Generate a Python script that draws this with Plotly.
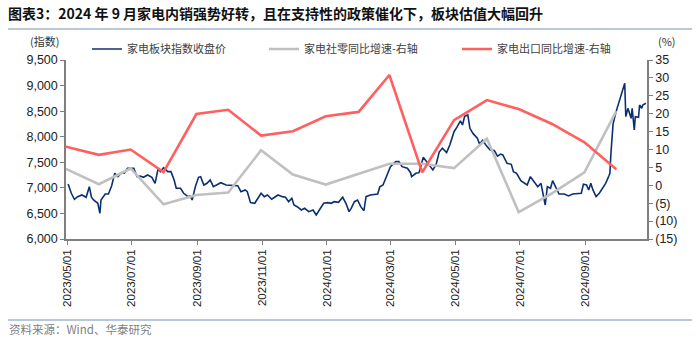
import plotly.graph_objects as go

# ---------------- data ----------------
idx_dates = [
    "2023-05-02","2023-05-03","2023-05-05","2023-05-08","2023-05-11","2023-05-15","2023-05-19","2023-05-22",
    "2023-05-24","2023-05-26","2023-05-30","2023-06-01","2023-06-02","2023-06-06","2023-06-09","2023-06-12",
    "2023-06-15","2023-06-18","2023-06-21","2023-06-24","2023-06-27","2023-06-30","2023-07-03","2023-07-06",
    "2023-07-09","2023-07-12","2023-07-16","2023-07-20","2023-07-23","2023-07-26","2023-07-28","2023-07-31",
    "2023-08-04","2023-08-07","2023-08-10","2023-08-12","2023-08-16","2023-08-19","2023-08-23","2023-08-25",
    "2023-08-27","2023-08-30","2023-09-02","2023-09-04","2023-09-07","2023-09-10","2023-09-13","2023-09-16",
    "2023-09-19","2023-09-23","2023-09-28","2023-10-06","2023-10-09","2023-10-12","2023-10-16","2023-10-18",
    "2023-10-21","2023-10-25","2023-10-28","2023-10-31","2023-11-03","2023-11-06","2023-11-10","2023-11-13",
    "2023-11-16","2023-11-20","2023-11-23","2023-11-26","2023-11-29","2023-12-01","2023-12-04","2023-12-08",
    "2023-12-11","2023-12-15","2023-12-19","2023-12-22","2023-12-25","2023-12-29","2024-01-02","2024-01-05",
    "2024-01-08","2024-01-12","2024-01-16","2024-01-19","2024-01-22","2024-01-24","2024-01-27","2024-01-30",
    "2024-02-02","2024-02-05","2024-02-07","2024-02-11","2024-02-18","2024-02-20","2024-02-23","2024-02-25",
    "2024-02-27","2024-03-01","2024-03-06","2024-03-09","2024-03-12","2024-03-17","2024-03-20","2024-03-21",
    "2024-03-25","2024-03-28","2024-04-01","2024-04-03","2024-04-06","2024-04-10","2024-04-13","2024-04-16",
    "2024-04-19","2024-04-23","2024-04-26","2024-04-30","2024-05-03","2024-05-06","2024-05-08","2024-05-10",
    "2024-05-13","2024-05-15","2024-05-18","2024-05-22","2024-05-24","2024-05-27","2024-05-30","2024-06-03",
    "2024-06-07","2024-06-10","2024-06-13","2024-06-15","2024-06-19","2024-06-23","2024-06-25","2024-06-28",
    "2024-07-02","2024-07-05","2024-07-08","2024-07-11","2024-07-15","2024-07-18","2024-07-21","2024-07-24",
    "2024-07-25","2024-07-27","2024-07-30","2024-08-01","2024-08-04","2024-08-07","2024-08-12","2024-08-16",
    "2024-08-20","2024-08-25","2024-08-28","2024-08-30","2024-09-02","2024-09-04","2024-09-06","2024-09-08",
    "2024-09-11","2024-09-14","2024-09-17","2024-09-20","2024-09-23","2024-09-24","2024-09-25","2024-09-26",
    "2024-09-27","2024-09-30","2024-10-08","2024-10-09","2024-10-11","2024-10-14","2024-10-15","2024-10-17",
    "2024-10-18","2024-10-21","2024-10-22","2024-10-24","2024-10-25","2024-10-28",
]
idx_close = [
    7076,7023,6894,6777,6828,6861,6816,7023,
    6816,6763,6698,6503,6763,6880,6880,7037,
    7285,7219,7285,7285,7383,7383,7383,7219,
    7232,7206,7252,7206,7089,7383,7317,7395,
    7317,7317,7154,6992,6992,6894,6828,6841,
    6763,7023,7206,7219,7056,7090,7154,7023,
    7056,7101,7056,7043,7043,6925,6959,6925,
    6711,6698,6796,6894,6828,6861,6777,6828,
    6861,6828,6816,6730,6796,6665,6632,6568,
    6600,6535,6568,6470,6568,6698,6711,6698,
    6730,6718,6816,6698,6535,6600,6730,6763,
    6632,6554,6828,6861,6880,7023,7056,7154,
    7252,7414,7512,7512,7414,7383,7297,7219,
    7285,7297,7598,7545,7480,7350,7447,7700,
    7774,7688,7838,8098,8196,8310,8229,8400,
    8425,8164,8060,7969,7858,7930,7840,7741,
    7730,7620,7660,7643,7480,7460,7317,7285,
    7140,7089,7056,7219,7101,7023,7089,6763,
    6665,7023,6992,7141,7023,6880,6880,6841,
    6880,6894,6894,7070,7056,6959,7089,6959,
    6828,6894,6992,7089,7232,7285,7680,8050,
    8250,8500,9044,8392,8555,8360,8555,8131,
    8392,8380,8620,8555,8620,8653,
]

month_dates = [
    "2023-04-30","2023-05-31","2023-06-30","2023-07-31","2023-08-31","2023-09-30",
    "2023-10-31","2023-11-30","2023-12-31","2024-01-31","2024-02-29","2024-03-31",
    "2024-04-30","2024-05-31","2024-06-30","2024-07-31","2024-08-31","2024-09-30",
]
retail_yoy = [4.6, 0.3, 4.7, -5.3, -2.7, -2.0, 9.8, 3.0, 0.2, None, 6.0, 6.0,
              4.8, 13.0, -7.5, -2.3, 3.6, 20.7]
export_yoy = [10.8, 8.5, 10.0, 3.7, 19.9, 21.1, 13.9, 15.1, 19.3, 20.5, 30.8, 3.6,
              18.2, 23.8, 21.3, 17.2, 12.0, 4.5]

x_tickvals = ["2023-05-01","2023-07-01","2023-09-01","2023-11-01","2024-01-01",
              "2024-03-01","2024-05-01","2024-07-01","2024-09-01"]
x_ticktext = [d.replace("-", "/") for d in x_tickvals]
left_ticks = [6000, 6500, 7000, 7500, 8000, 8500, 9000, 9500]
right_ticks = [-15, -10, -5, 0, 5, 10, 15, 20, 25, 30, 35]
right_ticktext = [f"({abs(v)})" if v < 0 else str(v) for v in right_ticks]

names = ["家电板块指数收盘价", "家电社零同比增速-右轴", "家电出口同比增速-右轴"]
title_text = "图表3：2024 年 9 月家电内销强势好转，且在支持性的政策催化下，板块估值大幅回升"
source_text = "资料来源：Wind、华泰研究"

# ---------------- figure ----------------
W, H = 700, 342
L, R, T, B = 66, 53, 60, 103
pw, ph = W - L - R, H - T - B

def px(x):
    return (x - L) / pw

def py(y):
    return (H - B - y) / ph

CJK = "Noto Sans CJK SC"
NUM = "Liberation Sans"
AX = "#7f7f7f"

fig = go.Figure()
fig.add_trace(go.Scatter(x=idx_dates, y=idx_close, name=names[0], mode="lines",
                         line=dict(color="#0c2f73", width=1.6), legendwidth=132))
fig.add_trace(go.Scatter(x=month_dates, y=retail_yoy, name=names[1], mode="lines",
                         line=dict(color="#c0c0c0", width=2.6), yaxis="y2",
                         connectgaps=True, legendwidth=148))
fig.add_trace(go.Scatter(x=month_dates, y=export_yoy, name=names[2], mode="lines",
                         line=dict(color="#ff5f5f", width=2.6), yaxis="y2"))

fig.update_layout(
    width=W, height=H,
    margin=dict(l=L, r=R, t=T, b=B, pad=0, autoexpand=False),
    paper_bgcolor="white", plot_bgcolor="white",
    showlegend=True,
    legend=dict(orientation="h", xref="container", yref="container",
                x=87 / W, y=1 - 49 / H, xanchor="left", yanchor="middle",
                font=dict(family=CJK, size=11, color="#404040"),
                bgcolor="rgba(0,0,0,0)", itemclick=False, tracegroupgap=0),
    xaxis=dict(type="date", range=["2023-04-30", "2024-10-29"],
               tickvals=x_tickvals, ticktext=x_ticktext, tickangle=-90,
               tickfont=dict(family=NUM, size=11.5, color="#222"),
               showgrid=False, zeroline=False, showline=True, linecolor=AX, linewidth=1.5,
               ticks="outside", ticklen=4, tickcolor=AX, tickwidth=1),
    yaxis=dict(range=[6000, 9500], tickvals=left_ticks,
               ticktext=[f"{v:,}" for v in left_ticks],
               tickfont=dict(family=NUM, size=12.5, color="#222"),
               showgrid=False, zeroline=False, showline=True, linecolor=AX, linewidth=1.5,
               ticks="outside", ticklen=4, tickcolor=AX, tickwidth=1),
    yaxis2=dict(range=[-15, 35], overlaying="y", side="right",
                tickvals=right_ticks, ticktext=right_ticktext,
                tickfont=dict(family=NUM, size=12.5, color="#222"),
                showgrid=False, zeroline=False, showline=True, linecolor=AX, linewidth=1.5,
                ticks="outside", ticklen=4, tickcolor=AX, tickwidth=1),
)

fig.add_annotation(text="<b>" + title_text + "</b>", xref="paper", yref="paper",
                   x=px(6), y=py(13), xanchor="left", yanchor="middle", showarrow=False,
                   font=dict(family=CJK, size=14, color="#111"))
fig.add_annotation(text="(指数)", xref="paper", yref="paper", x=px(44), y=py(41),
                   xanchor="center", yanchor="middle", showarrow=False,
                   font=dict(family=CJK, size=11, color="#333"))
fig.add_annotation(text="(%)", xref="paper", yref="paper", x=px(667), y=py(41),
                   xanchor="center", yanchor="middle", showarrow=False,
                   font=dict(family=CJK, size=11, color="#333"))
fig.add_annotation(text=source_text, xref="paper", yref="paper", x=px(7), y=py(329),
                   xanchor="left", yanchor="middle", showarrow=False,
                   font=dict(family=CJK, size=11.5, color="#7f7f7f"))
for yy in (29, 320):
    fig.add_shape(type="line", xref="paper", yref="paper", x0=px(8), x1=px(692),
                  y0=py(yy), y1=py(yy), line=dict(color="#9fb6d2", width=1.6))

fig.write_html("out.html")
